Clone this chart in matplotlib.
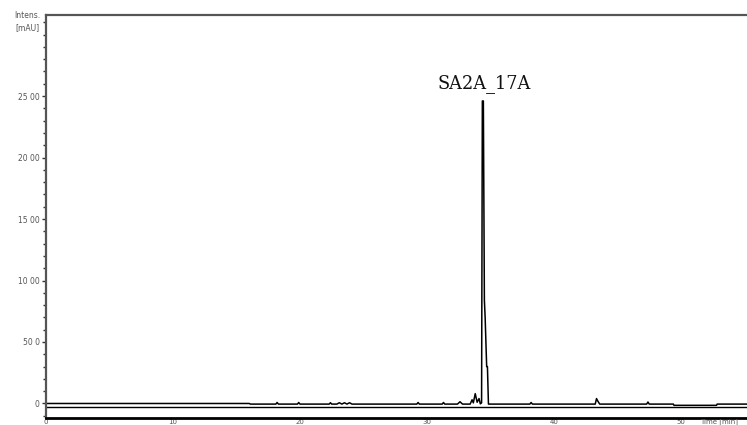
import matplotlib
matplotlib.use("Agg")
import matplotlib.pyplot as plt
from matplotlib.ticker import MultipleLocator

# chromatogram trace, time [min] vs intensity [mAU]
time_min = [0.0, 16.0, 16.1, 18.1, 18.2, 18.3, 19.8, 19.9, 20.0, 22.3, 22.4, 22.5,
            22.9, 23.1, 23.3, 23.5, 23.7, 23.9, 24.1, 29.2, 29.3, 29.4, 31.2, 31.3, 31.4,
            32.4, 32.6, 32.8, 33.4, 33.55, 33.65, 33.8, 33.95, 34.1, 34.2, 34.3, 34.36,
            34.44, 34.52, 34.58, 34.70, 34.76, 34.84, 38.1, 38.2, 38.3, 43.25, 43.35,
            43.45, 43.6, 47.3, 47.4, 47.5, 49.4, 49.45, 52.8, 52.85, 55.3]
intensity = [0, 0, -5, -5, 8, -5, -5, 8, -5, -5, 6, -5,
             -5, 6, -5, 6, -5, 6, -5, -5, 8, -5, -5, 8, -5,
             -5, 14, -5, -5, 30, 5, 80, 10, 40, -3, 5, 2460,
             2460, 840, 700, 300, 300, -5, -5, 8, -5, -5, 40,
             20, -5, -5, 12, -5, -5, -15, -15, -5, -5]
second_trace = -32

y_ticks = [0, 500, 1000, 1500, 2000, 2500]
y_tick_labels = ["0", "50 0", "10 00", "15 00", "20 00", "25 00"]
x_ticks = [0, 10, 20, 30, 40, 50]
x_tick_labels = ["0", "10", "20", "30", "40", "50"]
peak_label = "SA2A_17A"

fig = plt.figure(figsize=(7.47, 4.25), dpi=100)
ax = fig.add_axes([46 / 747, 7.5 / 425, 1 - 46 / 747, 402.5 / 425])

ax.plot(time_min, intensity, color="black", lw=1.1)
ax.axhline(second_trace, color="black", lw=1.0)

ax.set_xlim(0, 55.2)
ax.set_ylim(-114, 3159)

ax.spines["right"].set_visible(False)
ax.spines["top"].set_color("#555555")
ax.spines["top"].set_linewidth(1.6)
ax.spines["left"].set_color("#555555")
ax.spines["left"].set_linewidth(1.6)
ax.spines["bottom"].set_color("black")
ax.spines["bottom"].set_linewidth(2.0)

ax.set_yticks(y_ticks)
ax.set_yticklabels(y_tick_labels)
ax.yaxis.set_minor_locator(MultipleLocator(100))
ax.tick_params(axis="y", which="major", length=3, width=1, color="#333333",
               labelsize=5.5, labelcolor="#555555", pad=1.5)
ax.tick_params(axis="y", which="minor", length=2.5, width=1, color="#333333")

ax.set_xticks(x_ticks)
ax.set_xticklabels(x_tick_labels)
ax.tick_params(axis="x", which="major", length=0, labelsize=5,
               labelcolor="#555555", pad=0.8)

ax.text(34.5, 2525, peak_label, ha="center", va="bottom",
        fontsize=12.8, family="DejaVu Serif", color="#111111")

# axis unit text sits in line with the x tick labels
x_label = ax.get_xticklabels()[-1]
fig.text(700 / 747, 0, "Time [min]", ha="left", va="bottom",
         fontsize=5, color="#555555")
fig.text(40 / 747, 1 - 16 / 425, "Intens.", ha="right", va="center",
         fontsize=5.5, color="#555555")
fig.text(40 / 747, 1 - 28 / 425, "[mAU]", ha="right", va="center",
         fontsize=5.5, color="#555555")

fig.savefig("out.png", dpi=100)
